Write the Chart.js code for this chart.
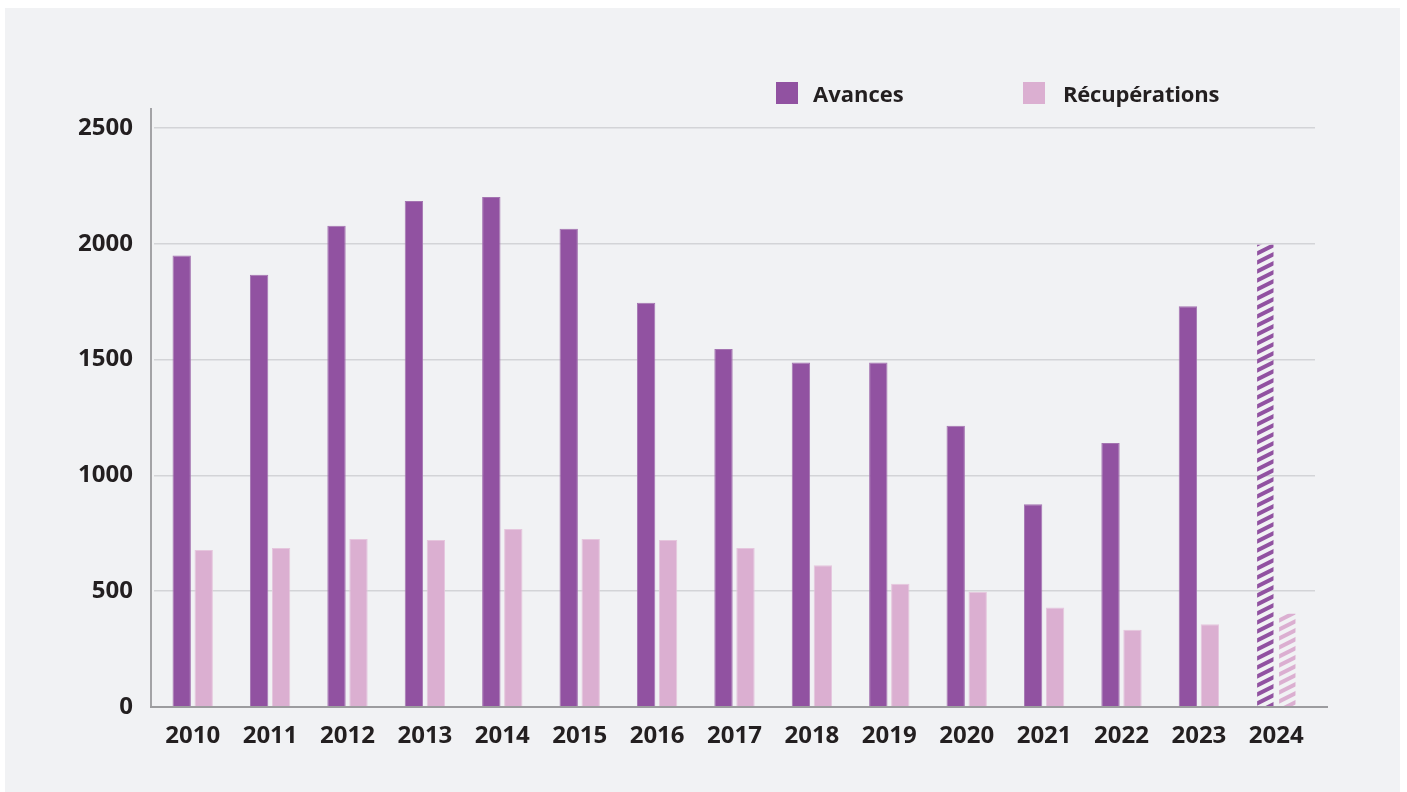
<!DOCTYPE html>
<html lang="fr">
<head>
<meta charset="utf-8">
<title>Avances et récupérations 2010–2024</title>
<script src="https://cdn.jsdelivr.net/npm/chart.js@4/dist/chart.umd.min.js"></script>
<style>
  html, body { margin: 0; padding: 0; background: #ffffff; }
  body { width: 1407px; height: 792px; position: relative; overflow: hidden;
         font-family: "Open Sans", "DejaVu Sans", sans-serif; }
  #panel { position: absolute; left: 5px; top: 8px; width: 1395px; height: 784px; background: #f1f2f4; }
  #wrap { position: absolute; left: 0; top: 0; width: 1407px; height: 792px; }
  #legend { position: absolute; left: 776px; top: 82px; display: flex; align-items: center; line-height: 22px; }
  .item { display: flex; align-items: center; font-weight: 700; font-size: 22px; line-height: 22px; color: #231f20; }
  .item:first-child { width: 247px; }
  .item + .item { letter-spacing: -0.2px; }
  .item + .item .box { margin-right: 18px; }
  .box { width: 22px; height: 22px; margin-right: 15px; }
</style>
</head>
<body>
<div id="panel"></div>
<div id="wrap"><canvas id="chart" width="1407" height="792"></canvas></div>
<div id="legend"></div>
<script>
// Years shown on the category axis
const years = ['2010','2011','2012','2013','2014','2015','2016','2017','2018','2019','2020','2021','2022','2023','2024'];
// Amounts advanced each year
const avances = [1950, 1866, 2078, 2185, 2202, 2065, 1745, 1546, 1487, 1487, 1214, 875, 1140, 1730, 2000];
// Amounts recovered each year
const recuperations = [678, 686, 725, 721, 769, 725, 721, 686, 612, 532, 498, 430, 334, 357, 407];
// Years whose figures are still provisional (drawn hatched)
const provisionalYears = ['2024'];
// Value axis ticks
const yTicks = [0, 500, 1000, 1500, 2000, 2500];

const COLOR_AV = '#9152a1';
const COLOR_REC = '#dbafd1';
const TEXT = '#231f20';
const FONT = '"Open Sans", "DejaVu Sans", sans-serif';

function hatch(color) {
  const w = 18, h = 9;
  const c = document.createElement('canvas');
  c.width = w; c.height = h;
  const g = c.getContext('2d');
  g.strokeStyle = color;
  g.lineWidth = 4;
  for (let k = -1; k <= 1; k++) {
    g.beginPath();
    g.moveTo(-2, h + k * h + h / w * 2);
    g.lineTo(w + 2, k * h - h / w * 2);
    g.stroke();
  }
  return g.createPattern(c, 'repeat');
}

const isProvisional = (ctx) => provisionalYears.includes(years[ctx.dataIndex]);

const fill = (solid, pattern) => (ctx) => isProvisional(ctx) ? pattern : solid;

const axisLines = {
  id: 'axisLines',
  afterDatasetsDraw(chart) {
    const { ctx, chartArea: a } = chart;
    ctx.save();
    ctx.strokeStyle = '#a3a3a6';
    ctx.lineWidth = 2;
    ctx.beginPath();
    ctx.moveTo(a.left - 3, a.top - 20);
    ctx.lineTo(a.left - 3, a.bottom + 1);
    ctx.stroke();
    ctx.strokeStyle = '#9c9c9f';
    ctx.beginPath();
    ctx.moveTo(a.left - 4, a.bottom);
    ctx.lineTo(a.right + 13, a.bottom);
    ctx.stroke();
    ctx.restore();
  }
};

const ctx = document.getElementById('chart').getContext('2d');
const patAv = hatch(COLOR_AV);
const patRec = hatch(COLOR_REC);

const chart = new Chart(ctx, {
  type: 'bar',
  data: {
    labels: years,
    datasets: [
      {
        label: 'Avances',
        data: avances,
        backgroundColor: fill(COLOR_AV, patAv),
        borderColor: (c) => isProvisional(c) ? 'rgba(0,0,0,0)' : '#a474b1',
        borderWidth: 1,
        categoryPercentage: 0.568,
        barPercentage: 0.836
      },
      {
        label: 'Récupérations',
        data: recuperations,
        backgroundColor: fill(COLOR_REC, patRec),
        borderColor: (c) => isProvisional(c) ? 'rgba(0,0,0,0)' : '#e5c6dd',
        borderWidth: 1,
        categoryPercentage: 0.568,
        barPercentage: 0.836
      }
    ]
  },
  options: {
    responsive: false,
    animation: false,
    layout: { padding: { top: 128, right: 92, bottom: 0, left: 0 } },
    plugins: { legend: { display: false }, tooltip: { enabled: false } },
    scales: {
      x: {
        grid: { display: false, drawTicks: false },
        border: { display: false },
        ticks: { color: TEXT, font: { family: FONT, size: 24, weight: '700' }, padding: 15, maxRotation: 0 },
        afterFit: (s) => { s.height = 85; }
      },
      y: {
        min: 0,
        max: 2500,
        grid: { color: '#d3d4d7', lineWidth: 1.5, drawTicks: false },
        border: { display: false },
        afterBuildTicks: (s) => { s.ticks = yTicks.map(v => ({ value: v })); },
        ticks: {
          color: TEXT,
          font: { family: FONT, size: 24, weight: '700' },
          padding: 21,
          callback: (v) => String(v)
        },
        afterFit: (s) => { s.width = 154; }
      }
    }
  },
  plugins: [axisLines]
});

// Legend built from the datasets
const legend = document.getElementById('legend');
chart.data.datasets.forEach((ds, i) => {
  const item = document.createElement('div');
  item.className = 'item';
  const box = document.createElement('span');
  box.className = 'box';
  box.style.background = i === 0 ? COLOR_AV : COLOR_REC;
  const txt = document.createElement('span');
  txt.textContent = ds.label;
  item.appendChild(box);
  item.appendChild(txt);
  legend.appendChild(item);
});
</script>
</body>
</html>
